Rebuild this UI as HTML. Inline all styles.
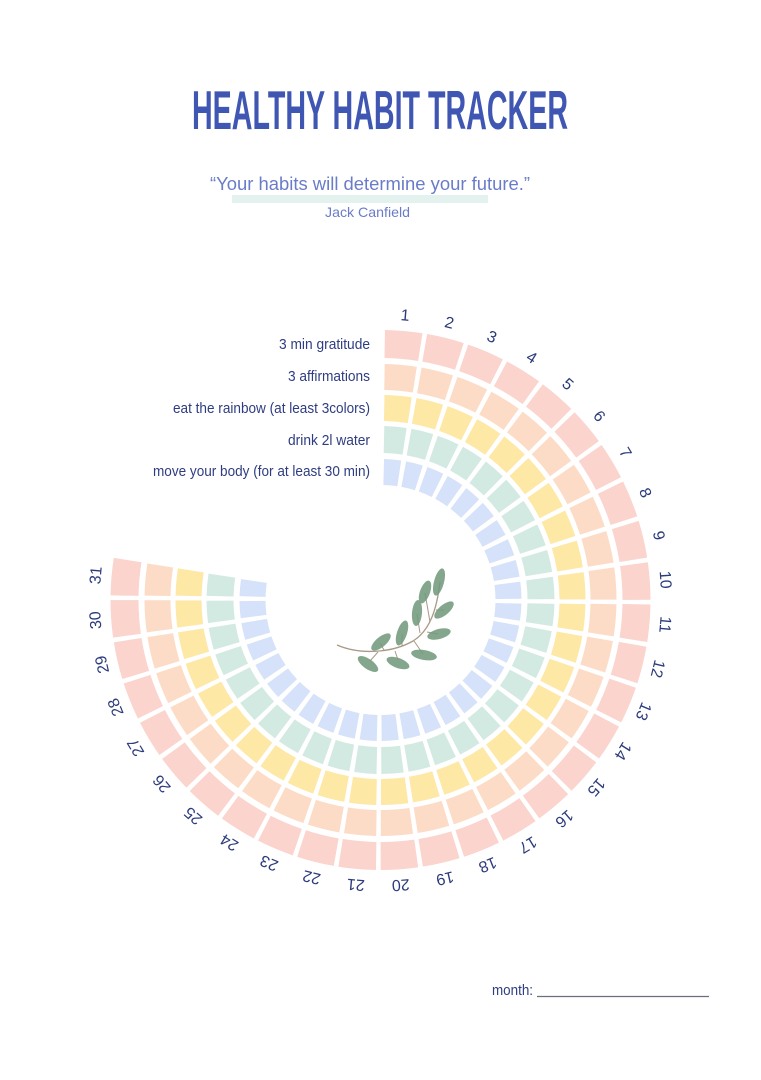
<!DOCTYPE html>
<html>
<head>
<meta charset="utf-8">
<style>
html,body{margin:0;padding:0;background:#fff;}
svg{display:block;}
text{font-family:"Liberation Sans",sans-serif;}
</style>
</head>
<body>
<svg width="761" height="1080" viewBox="0 0 761 1080" xmlns="http://www.w3.org/2000/svg">
<rect width="761" height="1080" fill="#fff"/>
<text x="380" y="129" font-size="55" font-weight="bold" fill="#3f57b3" text-anchor="middle" textLength="376" lengthAdjust="spacingAndGlyphs" style="font-family:'Liberation Sans Narrow','Liberation Sans',sans-serif">HEALTHY HABIT TRACKER</text>
<rect x="232" y="195" width="256" height="8" fill="#e4f2ef"/>
<text x="370" y="190" font-size="18" fill="#6a7cc8" text-anchor="middle" textLength="320" lengthAdjust="spacingAndGlyphs">“Your habits will determine your future.”</text>
<text x="367.5" y="217" font-size="14" fill="#6a7cc8" text-anchor="middle" textLength="85" lengthAdjust="spacingAndGlyphs">Jack Canfield</text>
<g fill="none" transform="rotate(-89.55 380.5 600)">
<circle cx="380.5" cy="600" r="256" stroke="#fad4cd" stroke-width="28" stroke-dasharray="35.7124 4.5" stroke-dashoffset="-2.25"/>
<circle cx="380.5" cy="600" r="223" stroke="#fcdcc6" stroke-width="26" stroke-dasharray="30.5288 4.5" stroke-dashoffset="-2.25"/>
<circle cx="380.5" cy="600" r="192" stroke="#fde8a6" stroke-width="26" stroke-dasharray="25.6593 4.5" stroke-dashoffset="-2.25"/>
<circle cx="380.5" cy="600" r="160.5" stroke="#d3eae3" stroke-width="27" stroke-dasharray="20.7113 4.5" stroke-dashoffset="-2.25"/>
<circle cx="380.5" cy="600" r="128" stroke="#d5e2f9" stroke-width="26" stroke-dasharray="15.6062 4.5" stroke-dashoffset="-2.25"/>
</g>
<circle cx="380.5" cy="600" r="192" fill="none" stroke="#fff" stroke-width="166" stroke-dasharray="271.43 2000" transform="rotate(189.45 380.5 600)"/>
<g font-size="15" fill="#2e3d80" text-anchor="end">
<text x="370" y="349" textLength="91" lengthAdjust="spacingAndGlyphs">3 min gratitude</text>
<text x="370" y="381" textLength="82" lengthAdjust="spacingAndGlyphs">3 affirmations</text>
<text x="370" y="413" textLength="197" lengthAdjust="spacingAndGlyphs">eat the rainbow (at least 3colors)</text>
<text x="370" y="445" textLength="82" lengthAdjust="spacingAndGlyphs">drink 2l water</text>
<text x="370" y="476" textLength="217" lengthAdjust="spacingAndGlyphs">move your body (for at least 30 min)</text>
</g>
<g font-size="16" fill="#2c3b7c" text-anchor="middle">
<text x="380.5" y="319.5" transform="rotate(4.95 380.5 600)">1</text>
<text x="380.5" y="319.5" transform="rotate(13.95 380.5 600)">2</text>
<text x="380.5" y="319.5" transform="rotate(22.95 380.5 600)">3</text>
<text x="380.5" y="319.5" transform="rotate(31.95 380.5 600)">4</text>
<text x="380.5" y="319.5" transform="rotate(40.95 380.5 600)">5</text>
<text x="380.5" y="319.5" transform="rotate(49.95 380.5 600)">6</text>
<text x="380.5" y="319.5" transform="rotate(58.95 380.5 600)">7</text>
<text x="380.5" y="319.5" transform="rotate(67.95 380.5 600)">8</text>
<text x="380.5" y="319.5" transform="rotate(76.95 380.5 600)">9</text>
<text x="380.5" y="319.5" transform="rotate(85.95 380.5 600)">10</text>
<text x="380.5" y="319.5" transform="rotate(94.95 380.5 600)">11</text>
<text x="380.5" y="319.5" transform="rotate(103.95 380.5 600)">12</text>
<text x="380.5" y="319.5" transform="rotate(112.95 380.5 600)">13</text>
<text x="380.5" y="319.5" transform="rotate(121.95 380.5 600)">14</text>
<text x="380.5" y="319.5" transform="rotate(130.95 380.5 600)">15</text>
<text x="380.5" y="319.5" transform="rotate(139.95 380.5 600)">16</text>
<text x="380.5" y="319.5" transform="rotate(148.95 380.5 600)">17</text>
<text x="380.5" y="319.5" transform="rotate(157.95 380.5 600)">18</text>
<text x="380.5" y="319.5" transform="rotate(166.95 380.5 600)">19</text>
<text x="380.5" y="319.5" transform="rotate(175.95 380.5 600)">20</text>
<text x="380.5" y="319.5" transform="rotate(184.95 380.5 600)">21</text>
<text x="380.5" y="319.5" transform="rotate(193.95 380.5 600)">22</text>
<text x="380.5" y="319.5" transform="rotate(202.95 380.5 600)">23</text>
<text x="380.5" y="319.5" transform="rotate(211.95 380.5 600)">24</text>
<text x="380.5" y="319.5" transform="rotate(220.95 380.5 600)">25</text>
<text x="380.5" y="319.5" transform="rotate(229.95 380.5 600)">26</text>
<text x="380.5" y="319.5" transform="rotate(238.95 380.5 600)">27</text>
<text x="380.5" y="319.5" transform="rotate(247.95 380.5 600)">28</text>
<text x="380.5" y="319.5" transform="rotate(256.95 380.5 600)">29</text>
<text x="380.5" y="319.5" transform="rotate(265.95 380.5 600)">30</text>
<text x="380.5" y="319.5" transform="rotate(274.95 380.5 600)">31</text>
</g>
<!-- leaf sprig -->
<g>
<path d="M337,645 C360,655 392,653 413,641 C431,630 437,607 440,582" fill="none" stroke="#a89a86" stroke-width="1.3"/>
<path d="M378,652 L370,661 M395,651 L398,660 M414,641 L423,654 M384,650 L380,643 M402,646 L402,634 M420,633 L417,614 M430,622 L425,593 M436,610 L444,610 M427,632 L438,634" stroke="#a89a86" stroke-width="1" fill="none"/>
<g fill="#729a7e" opacity="0.88">
<ellipse cx="368" cy="664" rx="12" ry="5" transform="rotate(35 368 664)"/>
<ellipse cx="398" cy="663" rx="12" ry="5" transform="rotate(20 398 663)"/>
<ellipse cx="424" cy="655" rx="13" ry="5" transform="rotate(10 424 655)"/>
<ellipse cx="381" cy="642" rx="12" ry="5" transform="rotate(-40 381 642)"/>
<ellipse cx="402" cy="633" rx="13" ry="5" transform="rotate(-72 402 633)"/>
<ellipse cx="417" cy="613" rx="13" ry="5" transform="rotate(-85 417 613)"/>
<ellipse cx="425" cy="592" rx="12" ry="5" transform="rotate(-70 425 592)"/>
<ellipse cx="439" cy="582" rx="14" ry="5" transform="rotate(-75 439 582)"/>
<ellipse cx="444" cy="610" rx="12" ry="5" transform="rotate(-40 444 610)"/>
<ellipse cx="439" cy="634" rx="12" ry="5" transform="rotate(-15 439 634)"/>
</g>
</g>
<text x="492" y="995" font-size="15" fill="#2e3d80" textLength="41" lengthAdjust="spacingAndGlyphs">month:</text>
<line x1="537" y1="996.5" x2="709" y2="996.5" stroke="#6b6d80" stroke-width="1.2"/>
</svg>
</body>
</html>
